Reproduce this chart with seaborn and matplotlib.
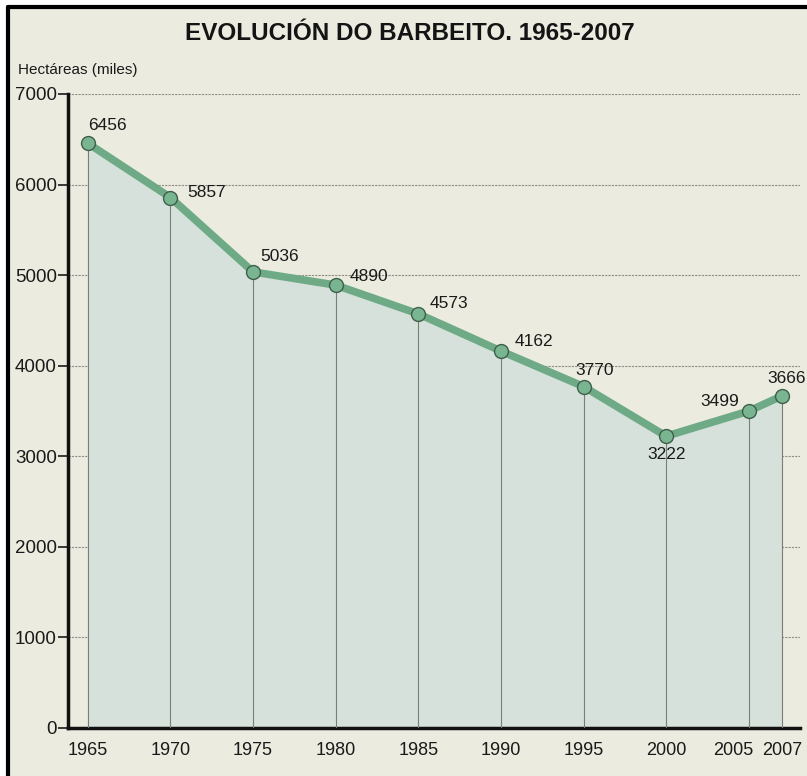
import matplotlib.pyplot as plt
import matplotlib.lines as mlines
import matplotlib.patches as mpatches
import matplotlib.transforms as mtransforms
import pandas as pd
import seaborn as sns

years = [1965, 1970, 1975, 1980, 1985, 1990, 1995, 2000, 2005, 2007]
hectares = [6456, 5857, 5036, 4890, 4573, 4162, 3770, 3222, 3499, 3666]
y_ticks = [0, 1000, 2000, 3000, 4000, 5000, 6000, 7000]

# label offsets in pixels (dx, dy, ha, va) for each point
label_pos = [
    (0, 10, 'left', 'bottom'),
    (17, 5, 'left', 'center'),
    (7, 15, 'left', 'center'),
    (14, 9, 'left', 'center'),
    (11, 10, 'left', 'center'),
    (14, 10, 'left', 'center'),
    (11, 16, 'center', 'center'),
    (0, -18, 'center', 'center'),
    (-10, 10, 'right', 'center'),
    (5, 17, 'center', 'center'),
]

df = pd.DataFrame({'Year': years, 'Hectares': hectares})

bg = '#ECEBDF'
fill_col = '#D5E1DA'
line_col = '#6DAA85'

sns.set_style("white")
plt.rcParams['font.family'] = ['Liberation Sans', 'DejaVu Sans']

fig = plt.figure(figsize=(8.07, 7.76), dpi=100, facecolor=bg)
ax = fig.add_axes([68 / 807, 1 - 728 / 776, (800 - 68) / 807, (728 - 94) / 776])
ax.set_facecolor(bg)

# horizontal dotted grid
for t in y_ticks[1:]:
    ax.axhline(t, color='#8E8E86', lw=0.8, ls=(0, (2, 1)), zorder=1)

ax.fill_between(df['Year'], df['Hectares'], 0, color=fill_col, zorder=2)
ax.vlines(df['Year'], 0, df['Hectares'], color='#7A7D78', lw=0.8, zorder=3)

sns.lineplot(data=df, x='Year', y='Hectares', ax=ax, color=line_col, lw=5.5,
             marker='o', markersize=10, markerfacecolor='#79B590',
             markeredgecolor='#3F5F4B', markeredgewidth=1.0, zorder=4)

for (x, y), (dx, dy, ha, va) in zip(zip(years, hectares), label_pos):
    ax.annotate(str(y), (x, y), xytext=(dx, dy), textcoords='offset pixels',
                ha=ha, va=va, fontsize=12.5, color='#1A1A1A', zorder=5)

ax.set_xlim(1963.8, 2008.1)
ax.set_ylim(0, 7000)
ax.set_xticks(years)
ax.set_xticklabels([str(y) for y in years], fontsize=13, color='#1A1A1A')
ax.set_yticks(y_ticks)
ax.set_yticklabels([str(t) for t in y_ticks], fontsize=13.5, color='#1A1A1A')
ax.tick_params(axis='y', length=7, width=1.2, color='#1A1A1A', pad=1, direction='out', left=True)
ax.tick_params(axis='x', length=0, pad=10)
ax.set_xlabel('')
ax.set_ylabel('')

# nudge the 2005 label left so it clears 2007
lbl_2005 = ax.get_xticklabels()[years.index(2005)]
lbl_2005.set_transform(lbl_2005.get_transform() +
                       mtransforms.ScaledTranslation(-0.16, 0, fig.dpi_scale_trans))

for s in ['top', 'right']:
    ax.spines[s].set_visible(False)
for s in ['left', 'bottom']:
    ax.spines[s].set_color('#111111')
    ax.spines[s].set_linewidth(2.5)

fig.text(410 / 807, 1 - 33 / 776, 'EVOLUCIÓN DO BARBEITO. 1965-2007', ha='center', va='center',
         fontsize=17.5, fontweight='bold', color='#141414')
fig.text(18 / 807, 1 - 70 / 776, 'Hectáreas (miles)', ha='left', va='center',
         fontsize=11, color='#1A1A1A')

# white margin and black frame on left and top
fig.patches.append(mpatches.Rectangle((0, 0), 6 / 807, 1, transform=fig.transFigure,
                                      color='white', zorder=10))
fig.patches.append(mpatches.Rectangle((0, 1 - 5 / 776), 1, 5 / 776, transform=fig.transFigure,
                                      color='white', zorder=10))
fig.lines.append(mlines.Line2D([8 / 807, 8 / 807], [0, 1 - 7 / 776], transform=fig.transFigure,
                               color='black', lw=3, zorder=11))
fig.lines.append(mlines.Line2D([8 / 807, 1], [1 - 7 / 776, 1 - 7 / 776], transform=fig.transFigure,
                               color='black', lw=3, zorder=11))

plt.savefig('out.png', dpi=100, facecolor=bg)
